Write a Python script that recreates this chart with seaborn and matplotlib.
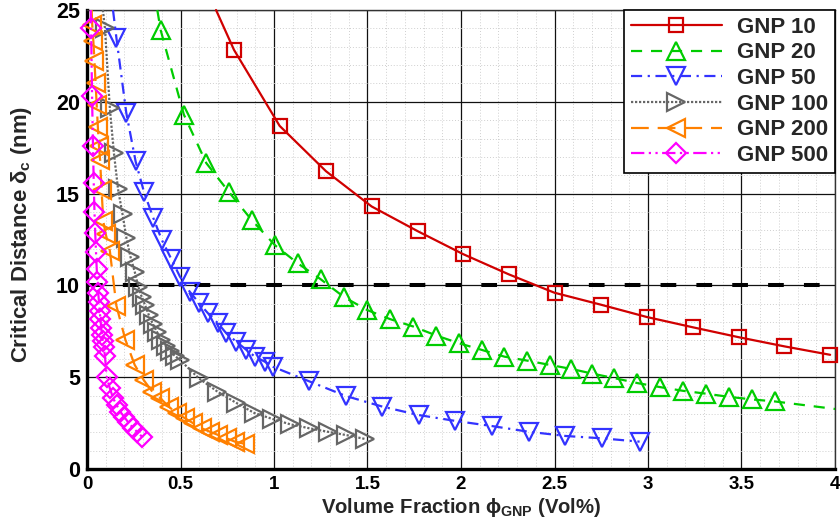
import matplotlib
matplotlib.use("Agg")
import matplotlib.pyplot as plt
from matplotlib.lines import Line2D
from matplotlib.ticker import MultipleLocator, FuncFormatter
import seaborn as sns

# ---------------- data ----------------
labels = ["GNP 10", "GNP 20", "GNP 50", "GNP 100", "GNP 200", "GNP 500"]

gnp10_x = [0.786, 1.030, 1.278, 1.522, 1.769, 2.012, 2.256, 2.500, 2.748, 2.993, 3.239, 3.484, 3.729, 3.974]
gnp10_y = [22.83, 18.69, 16.22, 14.30, 12.95, 11.70, 10.60, 9.60, 8.95, 8.28, 7.72, 7.18, 6.68, 6.22]

gnp20_x = [0.394, 0.518, 0.638, 0.761, 0.880, 1.006, 1.126, 1.249, 1.375, 1.498, 1.619, 1.745, 1.868, 1.989,
           2.110, 2.232, 2.355, 2.475, 2.590, 2.700, 2.820, 2.943, 3.065, 3.186, 3.312, 3.433, 3.556, 3.678]
gnp20_y = [23.9, 19.3, 16.66, 15.06, 13.57, 12.18, 11.21, 10.34, 9.36, 8.66, 8.17, 7.76, 7.27, 6.85,
           6.49, 6.12, 5.90, 5.67, 5.45, 5.20, 4.95, 4.68, 4.46, 4.26, 4.10, 3.93, 3.79, 3.68]

gnp50_x = [0.157, 0.210, 0.260, 0.305, 0.355, 0.400, 0.450, 0.497, 0.549, 0.600, 0.647, 0.700, 0.745, 0.798,
           0.852, 0.898, 0.950, 0.994, 1.187, 1.383, 1.579, 1.773, 1.969, 2.165, 2.361, 2.558, 2.754, 2.955]
gnp50_y = [23.5, 19.4, 16.75, 15.08, 13.66, 12.48, 11.45, 10.48, 9.66, 9.03, 8.48, 7.94, 7.39, 6.94,
           6.49, 6.12, 5.85, 5.57, 4.78, 3.98, 3.40, 2.94, 2.62, 2.34, 2.03, 1.80, 1.67, 1.49]

gnp100_x = [0.096, 0.122, 0.144, 0.166, 0.190, 0.211, 0.232, 0.255, 0.274, 0.292, 0.310, 0.330, 0.352, 0.375,
            0.397, 0.420, 0.443, 0.468, 0.497, 0.598, 0.697, 0.795, 0.893, 0.987, 1.085, 1.188, 1.287, 1.385, 1.485]
gnp100_y = [24.0, 19.66, 17.2, 15.24, 13.87, 12.57, 11.57, 10.75, 9.93, 9.39, 8.94, 8.40, 7.90, 7.45,
            7.05, 6.72, 6.45, 6.18, 5.94, 4.94, 4.22, 3.62, 3.06, 2.74, 2.44, 2.22, 2.03, 1.85, 1.64]

gnp200_x = [0.028, 0.034, 0.040, 0.046, 0.052, 0.058, 0.064, 0.070, 0.078, 0.087, 0.100, 0.122, 0.157, 0.205,
            0.255, 0.303, 0.350, 0.393, 0.437, 0.480, 0.525, 0.568, 0.613, 0.657, 0.702, 0.747, 0.791, 0.844]
gnp200_y = [24.2, 23.3, 22.2, 21.0, 19.8, 18.65, 17.6, 16.84, 15.2, 13.5, 12.8, 11.9, 8.9, 7.05,
            5.67, 4.85, 4.2, 3.85, 3.40, 3.03, 2.76, 2.49, 2.22, 2.03, 1.85, 1.67, 1.49, 1.37]

gnp500_x = [0.022, 0.027, 0.032, 0.036, 0.040, 0.044, 0.048, 0.052, 0.056, 0.060, 0.064, 0.068, 0.072, 0.076,
            0.080, 0.085, 0.090, 0.096, 0.105, 0.122, 0.140, 0.158, 0.178, 0.198, 0.220, 0.245, 0.270, 0.295]
gnp500_y = [24.0, 20.3, 17.6, 15.6, 14.0, 12.85, 11.84, 10.9, 10.2, 9.6, 9.1, 8.6, 8.15, 7.7,
            7.3, 6.95, 6.65, 6.15, 5.03, 4.40, 3.85, 3.49, 3.12, 2.85, 2.55, 2.25, 2.0, 1.75]

# points where each fitted curve leaves the frame (line only, no marker)
curve_start_x = [0.69, 0.376, 0.139, 0.085, 0.025, 0.020]
curve_start_y = [25.0, 25.0, 25.0, 25.0, 25.0, 25.0]
gnp20_end_x = [4.0]
gnp20_end_y = [3.27]

threshold = 10.0

# ---------------- styling ----------------
sns.set_theme(style="white")
plt.rcParams["font.family"] = ["Liberation Sans", "DejaVu Sans"]
plt.rcParams["font.weight"] = "bold"
plt.rcParams["mathtext.fontset"] = "custom"
plt.rcParams["mathtext.rm"] = "Liberation Sans:bold"
plt.rcParams["mathtext.it"] = "Liberation Sans:bold"
plt.rcParams["mathtext.bf"] = "Liberation Sans:bold"
plt.rcParams["mathtext.sf"] = "Liberation Sans:bold"

colors = ["#D00000", "#00CC00", "#3333FF", "#666666", "#FF8000", "#FF00FF"]
markers = ["s", "^", "v", ">", "<", "D"]
msizes = [10.5, 13, 13, 12.5, 12.5, 10]
lstyles = ["-", (0, (5, 4)), (0, (5, 2.5, 1, 2.5)), (0, (1, 0.8)), (0, (8, 4)), (0, (6, 2, 1, 2, 1, 2))]
LW = 1.6

fig = plt.figure(figsize=(8.4, 5.27), dpi=100)
ax = fig.add_axes([87 / 840, 1 - 469 / 527, (835 - 87) / 840, (469 - 10) / 527])

xs = [gnp10_x, gnp20_x, gnp50_x, gnp100_x, gnp200_x, gnp500_x]
ys = [gnp10_y, gnp20_y, gnp50_y, gnp100_y, gnp200_y, gnp500_y]

for i in range(6):
    lx = [curve_start_x[i]] + list(xs[i])
    ly = [curve_start_y[i]] + list(ys[i])
    if i == 1:
        lx += gnp20_end_x
        ly += gnp20_end_y
    sns.lineplot(x=lx, y=ly, ax=ax, color=colors[i], linewidth=LW, linestyle=lstyles[i],
                 marker=markers[i], markersize=msizes[i], markerfacecolor="none",
                 markeredgecolor=colors[i], markeredgewidth=1.6,
                 markevery=list(range(1, len(xs[i]) + 1)),
                 estimator=None, errorbar=None, sort=False, legend=False,
                 clip_on=False, zorder=3 + i * 0.1)

ax.axhline(threshold, color="black", linewidth=2.9, linestyle=(0, (3.9, 5.0)), zorder=2.5)

ax.set_xlim(0, 4)
ax.set_ylim(0, 25)
ax.xaxis.set_major_locator(MultipleLocator(0.5))
ax.xaxis.set_minor_locator(MultipleLocator(0.1))
ax.yaxis.set_major_locator(MultipleLocator(5))
ax.yaxis.set_minor_locator(MultipleLocator(1))
ax.xaxis.set_major_formatter(FuncFormatter(lambda v, p: "%g" % v))
ax.yaxis.set_major_formatter(FuncFormatter(lambda v, p: "%g" % v))

ax.set_axisbelow(True)
ax.grid(which="major", color="#111111", linewidth=0.9, linestyle="-")
ax.grid(which="minor", color="#cfcfcf", linewidth=0.7, linestyle=(0, (1, 2)))

ax.tick_params(which="both", direction="in", top=False, right=False, colors="black")
ax.tick_params(axis="x", which="major", labelsize=13.5)
ax.tick_params(axis="y", which="major", labelsize=15.5)
ax.tick_params(which="major", length=7, width=1.2, pad=5)
ax.tick_params(which="minor", length=4, width=1.0)
for lab in ax.get_xticklabels() + ax.get_yticklabels():
    lab.set_fontweight("bold")

for s in ["left", "bottom"]:
    ax.spines[s].set_linewidth(2.4)
    ax.spines[s].set_color("black")
for s in ["top", "right"]:
    ax.spines[s].set_linewidth(1.0)
    ax.spines[s].set_color("#333333")
    ax.spines[s].set_visible(True)

ax.set_xlabel(r"Volume Fraction $\phi_{GNP}$ (Vol%)", fontsize=14.6, fontweight="bold", labelpad=2)
ax.set_ylabel(r"Critical Distance $\delta_{c}$ (nm)", fontsize=15.9, fontweight="bold")
ax.yaxis.set_label_coords(-0.071, 0.512)

handles = [Line2D([], [], color=colors[i], linewidth=LW, linestyle=lstyles[i], marker=markers[i],
                  markersize=msizes[i], markerfacecolor="none", markeredgecolor=colors[i],
                  markeredgewidth=1.6) for i in range(6)]
leg = ax.legend(handles, labels, loc="upper right", bbox_to_anchor=(1, 1), borderaxespad=0,
                fancybox=False, framealpha=1, edgecolor="black", numpoints=1,
                handlelength=4.1, handletextpad=0.7, labelspacing=0.21, borderpad=0.3,
                prop={"family": "Liberation Sans", "weight": "bold", "size": 16})
leg.get_frame().set_linewidth(1.2)
leg.set_zorder(10)

fig.savefig("out.png", dpi=100)
